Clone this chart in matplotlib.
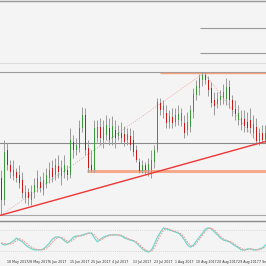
import matplotlib
matplotlib.use("Agg")
from matplotlib import pyplot as plt

# daily candles, price units
opens = [1.122, 1.100, 1.150, 1.135, 1.124, 1.128, 1.125, 1.120, 1.102, 1.108,
         1.100, 1.108, 1.112, 1.118, 1.110, 1.116, 1.122, 1.132, 1.125, 1.134,
         1.124, 1.128, 1.130, 1.125, 1.158, 1.150, 1.152, 1.172, 1.185, 1.152,
         1.135, 1.130, 1.162, 1.173, 1.160, 1.165, 1.172, 1.162, 1.170, 1.164,
         1.167, 1.166, 1.160, 1.164, 1.160, 1.150, 1.138, 1.129, 1.135, 1.130,
         1.130, 1.138, 1.150, 1.197, 1.190, 1.187, 1.178, 1.183, 1.178, 1.180,
         1.179, 1.177, 1.170, 1.173, 1.188, 1.205, 1.212, 1.220, 1.225, 1.220,
         1.212, 1.200, 1.196, 1.200, 1.202, 1.201, 1.213, 1.200, 1.191, 1.180,
         1.175, 1.181, 1.178, 1.180, 1.167, 1.173, 1.159, 1.167, 1.160]
closes = [1.100, 1.148, 1.135, 1.128, 1.130, 1.122, 1.117, 1.107, 1.108, 1.102,
          1.108, 1.115, 1.122, 1.112, 1.120, 1.125, 1.130, 1.123, 1.135, 1.128,
          1.132, 1.135, 1.125, 1.160, 1.150, 1.155, 1.172, 1.185, 1.150, 1.132,
          1.130, 1.172, 1.173, 1.162, 1.173, 1.175, 1.160, 1.174, 1.162, 1.167,
          1.162, 1.158, 1.166, 1.155, 1.148, 1.140, 1.129, 1.135, 1.130, 1.136,
          1.140, 1.150, 1.198, 1.190, 1.194, 1.177, 1.184, 1.177, 1.185, 1.186,
          1.187, 1.167, 1.178, 1.190, 1.206, 1.214, 1.222, 1.225, 1.220, 1.210,
          1.197, 1.194, 1.201, 1.204, 1.208, 1.213, 1.200, 1.190, 1.186, 1.187,
          1.182, 1.174, 1.172, 1.172, 1.176, 1.159, 1.167, 1.160, 1.167]
highs = [1.130, 1.160, 1.157, 1.140, 1.140, 1.132, 1.135, 1.128, 1.115, 1.112,
         1.115, 1.122, 1.130, 1.124, 1.128, 1.132, 1.138, 1.140, 1.142, 1.145,
         1.140, 1.145, 1.135, 1.172, 1.165, 1.162, 1.180, 1.193, 1.192, 1.160,
         1.150, 1.180, 1.180, 1.182, 1.180, 1.185, 1.182, 1.184, 1.180, 1.175,
         1.178, 1.174, 1.172, 1.172, 1.170, 1.155, 1.142, 1.140, 1.138, 1.142,
         1.150, 1.155, 1.202, 1.202, 1.200, 1.195, 1.190, 1.192, 1.192, 1.195,
         1.192, 1.185, 1.188, 1.195, 1.212, 1.220, 1.226, 1.228, 1.228, 1.224,
         1.218, 1.208, 1.208, 1.210, 1.216, 1.222, 1.220, 1.205, 1.200, 1.195,
         1.190, 1.190, 1.188, 1.192, 1.185, 1.182, 1.172, 1.175, 1.175]
lows = [1.085, 1.095, 1.130, 1.122, 1.120, 1.118, 1.112, 1.102, 1.097, 1.095,
        1.095, 1.102, 1.108, 1.108, 1.105, 1.112, 1.117, 1.118, 1.120, 1.122,
        1.115, 1.122, 1.120, 1.122, 1.142, 1.145, 1.148, 1.168, 1.145, 1.128,
        1.128, 1.128, 1.158, 1.155, 1.152, 1.160, 1.155, 1.155, 1.152, 1.160,
        1.157, 1.154, 1.155, 1.150, 1.144, 1.138, 1.127, 1.127, 1.126, 1.124,
        1.122, 1.132, 1.148, 1.185, 1.182, 1.172, 1.172, 1.172, 1.174, 1.175,
        1.174, 1.162, 1.165, 1.168, 1.182, 1.200, 1.205, 1.214, 1.216, 1.204,
        1.193, 1.185, 1.192, 1.195, 1.196, 1.195, 1.192, 1.184, 1.180, 1.175,
        1.170, 1.168, 1.168, 1.167, 1.162, 1.156, 1.155, 1.157, 1.157]

# stochastic main / signal
stoch_main = [41, 37, 40, 43, 49, 57, 51, 46, 37, 31, 26, 23, 23, 23, 26, 34, 43, 54, 60, 60,
              57, 49, 43, 51, 60, 63, 63, 66, 69, 71, 71, 57, 46, 54, 60, 63, 66, 66, 66, 66,
              63, 57, 54, 51, 49, 43, 34, 26, 20, 17, 23, 40, 60, 74, 86, 83, 80, 77, 74, 71,
              63, 51, 37, 31, 37, 49, 60, 71, 83, 86, 83, 74, 66, 57, 51, 49, 46, 40, 34, 29,
              23, 23, 26, 26, 23, 23, 26, 29, 37]
stoch_signal = [43, 42, 39, 40, 43, 50, 55, 51, 44, 37, 31, 27, 24, 23, 24, 28, 35, 45, 54, 59,
                59, 54, 47, 46, 53, 60, 63, 64, 67, 70, 71, 66, 55, 51, 56, 61, 64, 66, 66, 66,
                65, 61, 56, 53, 50, 46, 39, 30, 23, 19, 19, 30, 49, 66, 79, 85, 82, 79, 76, 73,
                68, 58, 45, 35, 34, 42, 54, 65, 77, 85, 85, 80, 71, 62, 55, 50, 48, 44, 38, 32,
                27, 23, 24, 26, 25, 23, 24, 27, 32]
stoch_levels = [20, 80]

date_pos = [2, 9, 16, 23, 30, 37, 44, 51, 58, 65, 72, 79, 86]
date_labels = ["18 May 2017", "28 May 2017", "6 Jun 2017", "15 Jun 2017", "25 Jun 2017",
               "4 Jul 2017", "13 Jul 2017", "23 Jul 2017", "1 Aug 2017", "10 Aug 2017",
               "20 Aug 2017", "29 Aug 2017", "7 Sep 2017"]

# drawn objects
gray_levels = [1.237, 1.228, 1.157, 1.085]
gray_colors = ["#dddddd", "#9a9a9a", "#8a8a8a", "#a8a8a8"]
fib_levels = [1.272, 1.247]
fib_start = 66.2
resist_level = 1.227
resist_start = 52.8
support_level = 1.129
support_start = 28.5
trend_a = (0, 1.085)
trend_b = (85, 1.156)
dot_up = ([0, 67.5], [1.085, 1.227])
dot_down = ([67.5, 85.5], [1.227, 1.157])

bg = "#f4f4f4"
fig = plt.figure(figsize=(2.66, 2.66), dpi=100, facecolor=bg)
ax = fig.add_axes([0, 1 - 221 / 266, 1, 221 / 266])
ax2 = fig.add_axes([0, 8 / 266, 1, 36 / 266])
for a in (ax, ax2):
    a.set_facecolor(bg)
    for s in a.spines.values():
        s.set_visible(False)
    a.set_xlim(-0.5, 88.17)

ax.set_ylim(1.079, 1.300)
ax.set_xticks([])
ax.set_yticks([])

xs = list(range(len(opens)))
for lvl, col in zip(gray_levels, gray_colors):
    ax.axhline(lvl, color=col, lw=0.8, zorder=1)
ax.hlines(fib_levels, fib_start, 90, color="#999999", lw=0.8, zorder=1)
ax.hlines(resist_level, resist_start, 90, color="#f2a27e", lw=1.0, zorder=1)
ax.hlines(support_level, support_start, 90, color="#f7a98c", lw=2.2, zorder=1)
ax.plot(dot_up[0], dot_up[1], color="#f4a3a3", lw=0.7, ls=(0, (1, 1.5)), zorder=2)
ax.plot(dot_down[0], dot_down[1], color="#f4a3a3", lw=0.7, ls=(0, (1, 1.5)), zorder=2)
ax.axline(trend_a, trend_b, color="#ee3535", lw=1.0, zorder=4)

ax.vlines(xs, lows, highs, color="#9a9a9a", lw=0.7, zorder=3)
body_bottom = [min(o, c) for o, c in zip(opens, closes)]
body_h = [max(abs(c - o), 0.0015) for o, c in zip(opens, closes)]
colors = ["#3a9a3a" if c >= o else "#cc1515" for o, c in zip(opens, closes)]
ax.bar(xs, body_h, bottom=body_bottom, width=0.65, color=colors, zorder=3)

# separators
fig.add_artist(plt.Line2D([0, 1], [1 - 1 / 266, 1 - 1 / 266], color="#999999", lw=1.0))
fig.add_artist(plt.Line2D([0, 1], [1 - 221 / 266, 1 - 221 / 266], color="#8a8a8a", lw=1.0))

# stochastic panel
ax2.set_ylim(0, 36 / 0.35)
ax2.set_yticks([])
for lv in stoch_levels:
    ax2.axhline(lv, color="#cfcfcf", lw=0.6, ls=(0, (1, 1.5)))
ax2.plot(range(len(stoch_main)), stoch_main, color="#6fd8cc", lw=0.9)
ax2.plot(range(len(stoch_signal)), stoch_signal, color="#f29a9a", lw=0.8, ls=(0, (1.5, 1)))
ax2.set_xticks(date_pos)
ax2.set_xticklabels(date_labels, fontsize=2.3, ha="left", color="#333333",
                    family=["Liberation Sans Narrow", "DejaVu Sans"])
ax2.tick_params(axis="x", length=0, pad=1.5)

fig.savefig("out.png", dpi=100, facecolor=bg)
